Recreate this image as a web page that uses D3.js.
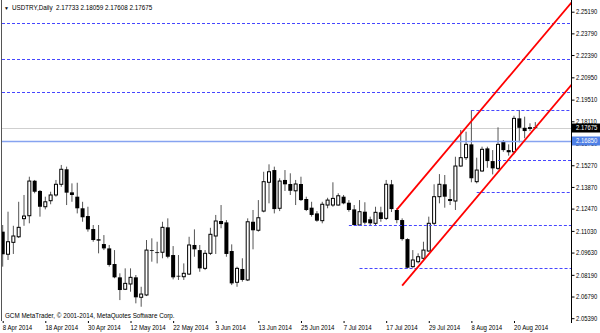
<!DOCTYPE html>
<html>
<head>
<meta charset="utf-8">
<script src="https://cdn.jsdelivr.net/npm/d3@7"></script>
<style>
  body { margin: 0; background: #fff; }
  text { font-family: "Liberation Sans", Arial, sans-serif; }
</style>
</head>
<body>
<svg id="chart" width="600" height="333"></svg>
<script>
// USDTRY daily bars, 8 Apr 2014 .. 26 Aug 2014 (weekdays)
const symbol = 'USDTRY,Daily';
const firstDay = '2014-04-08';

const opens = [2.1098, 2.0952, 2.1029, 2.1065, 2.1182, 2.1201, 2.1427, 2.1361, 2.1259, 2.1298,
  2.1335, 2.1404, 2.1501, 2.1352, 2.1324, 2.1249, 2.1199, 2.1115, 2.1049, 2.1018,
  2.0990, 2.0889, 2.0803, 2.0726, 2.0760, 2.0803, 2.0674, 2.0689, 2.0979, 2.0965,
  2.0965, 2.1126, 2.0947, 2.0813, 2.0807, 2.0824, 2.1012, 2.0979, 2.0861, 2.0958,
  2.1070, 2.1167, 2.1158, 2.0973, 2.0771, 2.0857, 2.0786, 2.1162, 2.1107, 2.1231,
  2.1417, 2.1496, 2.1249, 2.1432, 2.1406, 2.1362, 2.1406, 2.1309, 2.1253, 2.1216,
  2.1169, 2.1270, 2.1270, 2.1270, 2.1324, 2.1285, 2.1242, 2.1141, 2.1227, 2.1178,
  2.1152, 2.1223, 2.1184, 2.1404, 2.1238, 2.1173, 2.1050, 2.0872, 2.0904, 2.0926,
  2.0973, 2.1152, 2.1324, 2.1404, 2.1309, 2.1296, 2.1522, 2.1576, 2.1662, 2.1421,
  2.1490, 2.1636, 2.1554, 2.1507, 2.1684, 2.1625, 2.1614, 2.1830, 2.1769, 2.1766,
  2.17733];
const highs = [2.1141, 2.1227, 2.1136, 2.1291, 2.1335, 2.1453, 2.1432, 2.1367, 2.1324, 2.1356,
  2.1432, 2.1529, 2.1518, 2.1410, 2.1414, 2.1291, 2.1259, 2.1141, 2.1141, 2.1076,
  2.1012, 2.0979, 2.0829, 2.0861, 2.0861, 2.0818, 2.0742, 2.1044, 2.1055, 2.1033,
  2.1162, 2.1184, 2.1005, 2.0947, 2.0893, 2.1065, 2.1113, 2.1012, 2.0979, 2.1123,
  2.1206, 2.1270, 2.1173, 2.1016, 2.0872, 2.0926, 2.1184, 2.1238, 2.1302, 2.1485,
  2.1533, 2.1518, 2.1443, 2.1496, 2.1475, 2.1432, 2.1453, 2.1324, 2.1291, 2.1231,
  2.1291, 2.1317, 2.1417, 2.1346, 2.1335, 2.1302, 2.1270, 2.1302, 2.1288, 2.1195,
  2.1259, 2.1259, 2.1432, 2.1432, 2.1249, 2.1184, 2.1055, 2.0979, 2.0958, 2.1033,
  2.1195, 2.1404, 2.1470, 2.1464, 2.1373, 2.1582, 2.1755, 2.1744, 2.1884, 2.1576,
  2.1647, 2.1647, 2.1625, 2.1772, 2.1690, 2.1662, 2.1847, 2.1884, 2.1841, 2.1798,
  2.18059];
const lows = [2.0872, 2.0915, 2.0954, 2.1057, 2.1136, 2.1152, 2.1346, 2.1195, 2.1242, 2.1275,
  2.1324, 2.1388, 2.1270, 2.1291, 2.1216, 2.1162, 2.1098, 2.1033, 2.0958, 2.0979,
  2.0872, 2.0797, 2.0656, 2.0721, 2.0710, 2.0635, 2.0613, 2.0682, 2.0904, 2.0893,
  2.0926, 2.0926, 2.0790, 2.0786, 2.0786, 2.0818, 2.0936, 2.0839, 2.0850, 2.0947,
  2.0954, 2.1120, 2.0936, 2.0753, 2.0742, 2.0775, 2.0779, 2.0984, 2.1098, 2.1223,
  2.1281, 2.1216, 2.1231, 2.1361, 2.1335, 2.1270, 2.1296, 2.1231, 2.1195, 2.1162,
  2.1152, 2.1249, 2.1259, 2.1266, 2.1275, 2.1227, 2.1136, 2.1136, 2.1145, 2.1141,
  2.1141, 2.1162, 2.1173, 2.1225, 2.1152, 2.1040, 2.0861, 2.0865, 2.0893, 2.0915,
  2.0968, 2.1141, 2.1281, 2.1253, 2.1270, 2.1238, 2.1518, 2.1561, 2.1417, 2.1410,
  2.1485, 2.1511, 2.1468, 2.1496, 2.1614, 2.1589, 2.1598, 2.1675, 2.1701, 2.1748,
  2.17608];
const closes = [2.0952, 2.1033, 2.1070, 2.1126, 2.1199, 2.1425, 2.1356, 2.1259, 2.1291, 2.1335,
  2.1404, 2.1501, 2.1350, 2.1335, 2.1249, 2.1191, 2.1113, 2.1044, 2.1040, 2.0990,
  2.0883, 2.0803, 2.0721, 2.0764, 2.0803, 2.0674, 2.0695, 2.0979, 2.0975, 2.0960,
  2.1126, 2.0936, 2.0803, 2.0809, 2.0829, 2.1012, 2.0984, 2.0861, 2.0958, 2.1081,
  2.1167, 2.1147, 2.0954, 2.0764, 2.0861, 2.0786, 2.1162, 2.1107, 2.1188, 2.1421,
  2.1485, 2.1244, 2.1425, 2.1404, 2.1362, 2.1406, 2.1302, 2.1238, 2.1206, 2.1169,
  2.1275, 2.1302, 2.1313, 2.1330, 2.1281, 2.1238, 2.1141, 2.1227, 2.1156, 2.1152,
  2.1223, 2.1180, 2.1404, 2.1244, 2.1173, 2.1050, 2.0865, 2.0915, 2.0936, 2.0979,
  2.1152, 2.1324, 2.1404, 2.1324, 2.1296, 2.1522, 2.1576, 2.1662, 2.1443, 2.1496,
  2.1630, 2.1554, 2.1507, 2.1662, 2.1625, 2.1611, 2.1830, 2.1769, 2.1748, 2.1770,
  2.17675];

const dateLabels = ['8 Apr 2014', '18 Apr 2014', '30 Apr 2014', '12 May 2014', '22 May 2014',
  '3 Jun 2014', '13 Jun 2014', '25 Jun 2014', '7 Jul 2014', '17 Jul 2014',
  '29 Jul 2014', '8 Aug 2014', '20 Aug 2014'];
const priceTicks = [2.25190, 2.23790, 2.22390, 2.20950, 2.19510, 2.18110, 2.16710, 2.15270,
  2.13870, 2.12470, 2.11030, 2.09630, 2.08190, 2.06790, 2.05390];

// horizontal levels: full width ones, and ones drawn from a given day
const fullLevels = [2.2446, 2.2213, 2.2002];
const levelDays = ['2014-08-08', '2014-08-15', '2014-08-11', '2014-07-08', '2014-07-10'];
const levelPrices = [2.1884, 2.1561, 2.1356, 2.1139, 2.0861];
const markedLevel = 2.16850;

// channel trend lines (two anchor points each, ray to the right)
const channelDays = [['2014-07-21', '2014-08-20'], ['2014-07-22', '2014-08-26']];
const channelPrices = [[2.1240, 2.2138], [2.0749, 2.1769]];

// ---------------------------------------------------------------
const parseDay = d3.timeParse('%Y-%m-%d');
const fmtDay = d3.timeFormat('%-d %b %Y');
const keyDay = d3.timeFormat('%Y-%m-%d');
const n = closes.length;
const dates = d3.timeDay.range(parseDay(firstDay), d3.timeDay.offset(parseDay(firstDay), 200))
  .filter(d => d.getDay() !== 0 && d.getDay() !== 6)
  .slice(0, n);
const dayIndex = s => dates.findIndex(d => keyDay(d) === s);

const bars = dates.map((d, i) => ({ date: d, i, o: opens[i], h: highs[i], l: lows[i], c: closes[i] }));

const svg = d3.select('#chart');
const plotLeft = 2, plotRight = 571, plotTop = 0, plotBottom = 321;
const sx = 0.84; // terminal font is narrower than Liberation Sans

const x = d3.scaleLinear().domain([0, n - 1]).range([2.7, 535.3]);
const y = d3.scaleLinear().domain([2.05390, 2.25190]).range([318.2, 11.7]);
const fmt = d3.format('.5f');

svg.append('defs').append('clipPath').attr('id', 'plot')
  .append('rect').attr('x', plotLeft).attr('y', plotTop)
  .attr('width', plotRight - plotLeft).attr('height', plotBottom - plotTop);

const g = svg.append('g').attr('clip-path', 'url(#plot)');

// bid line
g.append('line')
  .attr('x1', plotLeft).attr('x2', plotRight)
  .attr('y1', Math.round(y(closes[n - 1])) + 0.5).attr('y2', Math.round(y(closes[n - 1])) + 0.5)
  .attr('stroke', '#cfcfcf').attr('stroke-width', 1.2);

// candles
const candle = g.selectAll('g.bar').data(bars).join('g').attr('class', 'bar');
candle.append('line')
  .attr('x1', d => x(d.i)).attr('x2', d => x(d.i))
  .attr('y1', d => y(d.h)).attr('y2', d => y(d.l))
  .attr('stroke', '#555').attr('stroke-width', 1);
candle.append('rect')
  .attr('x', d => x(d.i) - (d.c >= d.o ? 1.5 : 2))
  .attr('width', d => d.c >= d.o ? 3 : 4)
  .attr('y', d => y(Math.max(d.o, d.c)))
  .attr('height', d => Math.max(0.8, y(Math.min(d.o, d.c)) - y(Math.max(d.o, d.c))))
  .attr('fill', d => d.c >= d.o ? '#fff' : '#000')
  .attr('stroke', d => d.c >= d.o ? '#000' : 'none')
  .attr('stroke-width', 1);

// dotted levels
g.selectAll('line.full').data(fullLevels).join('line').attr('class', 'full')
  .attr('x1', plotLeft).attr('x2', plotRight)
  .attr('y1', d => Math.round(y(d)) + 0.5).attr('y2', d => Math.round(y(d)) + 0.5)
  .attr('stroke', '#4646ff').attr('stroke-dasharray', '3,2');
g.selectAll('line.part').data(levelPrices).join('line').attr('class', 'part')
  .attr('x1', (d, k) => x(dayIndex(levelDays[k]))).attr('x2', plotRight)
  .attr('y1', d => Math.round(y(d)) + 0.5).attr('y2', d => Math.round(y(d)) + 0.5)
  .attr('stroke', '#4646ff').attr('stroke-dasharray', '3,2');

// marked horizontal line
g.append('line')
  .attr('x1', plotLeft).attr('x2', plotRight)
  .attr('y1', Math.round(y(markedLevel)) + 0.5).attr('y2', Math.round(y(markedLevel)) + 0.5)
  .attr('stroke', '#86a3f0').attr('stroke-width', 1.3);

// channel rays
channelPrices.forEach((p, k) => {
  const i0 = dayIndex(channelDays[k][0]), i1 = dayIndex(channelDays[k][1]);
  const iEnd = x.invert(plotRight + 2);
  const pEnd = p[0] + (p[1] - p[0]) * (iEnd - i0) / (i1 - i0);
  g.append('line')
    .attr('x1', x(i0)).attr('y1', y(p[0]))
    .attr('x2', x(iEnd)).attr('y2', y(pEnd))
    .attr('stroke', '#ff0000').attr('stroke-width', 1.8);
});

// frame
svg.append('line').attr('x1', 1.5).attr('x2', 1.5).attr('y1', 0).attr('y2', plotBottom)
  .attr('stroke', '#555');
svg.append('line').attr('x1', plotRight + 0.5).attr('x2', plotRight + 0.5)
  .attr('y1', 0).attr('y2', plotBottom + 2)
  .attr('stroke', '#000');

// price axis
const yAxis = svg.append('g')
  .attr('transform', `translate(${plotRight + 0.5},0)`)
  .call(d3.axisRight(y).tickValues(priceTicks).tickSize(3).tickPadding(2).tickFormat(fmt));
yAxis.select('.domain').remove();
yAxis.selectAll('text').attr('font-size', 7).attr('font-family', null).attr('fill', '#000')
  .attr('x', 4.5 / sx).attr('transform', `scale(${sx},1)`);

// price tags
const tags = [
  { v: closes[n - 1], bg: '#000' },
  { v: markedLevel, bg: '#4f80e6' }
];
const tag = svg.selectAll('g.tag').data(tags).join('g').attr('class', 'tag')
  .attr('transform', d => `translate(${plotRight + 1},${Math.round(y(d.v))})`);
tag.append('rect').attr('x', 0).attr('y', -4.5).attr('width', 29).attr('height', 9)
  .attr('fill', d => d.bg);
tag.append('text').attr('x', 4 / sx).attr('y', 0).attr('dy', '0.34em')
  .attr('transform', `scale(${sx},1)`)
  .attr('font-size', 7).attr('fill', '#fff').text(d => fmt(d.v));

// time axis
const labelIdx = dateLabels.map(s => dates.findIndex(d => fmtDay(d) === s));
const xAxis = svg.append('g')
  .attr('transform', `translate(0,${plotBottom})`)
  .call(d3.axisBottom(x).tickValues(labelIdx).tickSize(2).tickPadding(1.5)
    .tickFormat(i => fmtDay(dates[i])));
xAxis.select('.domain').remove();
xAxis.selectAll('.tick line').attr('stroke', '#000');
xAxis.selectAll('text').attr('text-anchor', 'start').attr('font-size', 7.5)
  .attr('font-family', null).attr('fill', '#000').attr('x', -0.5)
  .attr('transform', `scale(0.81,1)`);

// title and copyright
svg.append('text').attr('x', 4).attr('y', 9.5).attr('font-size', 5).attr('fill', '#000').text('▼');
svg.append('text').attr('x', 12 / sx).attr('y', 10).attr('font-size', 7.5).attr('fill', '#000')
  .attr('transform', `scale(${sx},1)`)
  .attr('xml:space', 'preserve')
  .text(`${symbol}  ${fmt(opens[n - 1])} ${fmt(highs[n - 1])} ${fmt(lows[n - 1])} ${fmt(closes[n - 1])}`);
svg.append('text').attr('x', 5 / sx).attr('y', 318.5).attr('font-size', 7.5).attr('fill', '#000')
  .attr('transform', `scale(${sx},1)`)
  .text('GCM MetaTrader, © 2001-2014, MetaQuotes Software Corp.');
</script>
</body>
</html>
